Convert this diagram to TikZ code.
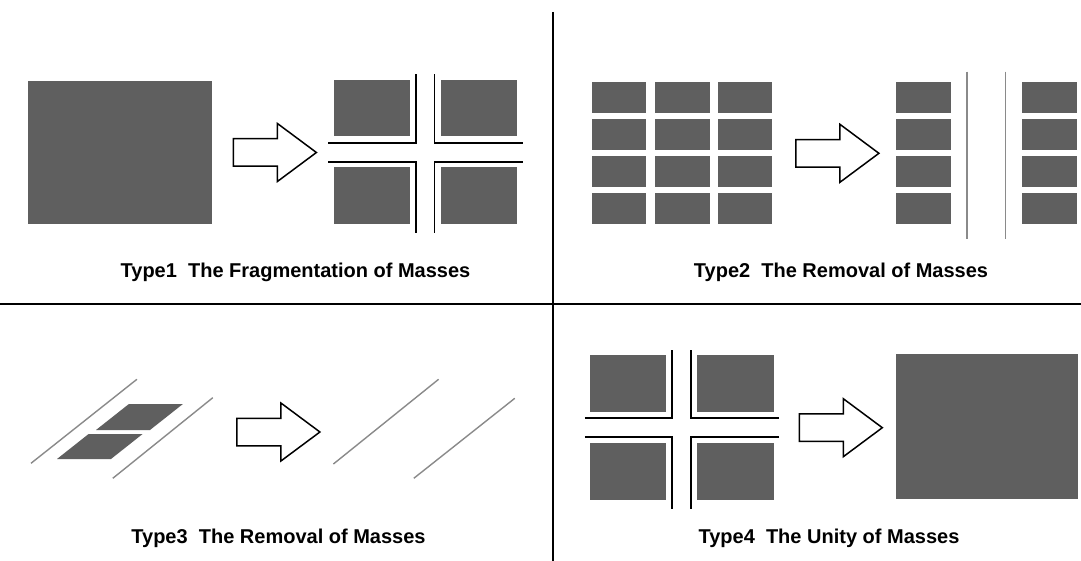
\documentclass[tikz,border=0pt]{standalone}
\usepackage{fontspec}
\newfontfamily\labelfont{Liberation Sans}
\definecolor{masscol}{HTML}{5F5F5F}
\definecolor{guidecol}{HTML}{8A8A8A}

\begin{document}
\begin{tikzpicture}[x=1pt,y=-1pt,
  mass/.style={fill=masscol},
  crossline/.style={draw=black,line width=1.8pt,line join=miter},
  guideline/.style={draw=guidecol,line width=1.4pt},
  divider/.style={draw=black,line width=2.4pt},
  shiftarrow/.style={draw=black,line width=1.5pt,fill=white,line join=miter},
  caption/.style={font=\labelfont\bfseries\fontsize{20}{23}\selectfont,inner sep=0pt,anchor=base},
  blockarrow/.pic={
    \path[shiftarrow] (0,-13.75) -- (44,-13.75) -- (44,-29) -- (83,0)
      -- (44,29) -- (44,13.75) -- (0,13.75) -- cycle;
  },
  crossmass/.pic={
    \fill[mass] (-91,-72.5) rectangle (-15,-16);
    \fill[mass] (16,-72.5) rectangle (92.3,-16);
    \fill[mass] (-91,15) rectangle (-15,71.7);
    \fill[mass] (16,15) rectangle (92.3,71.7);
    \draw[crossline] (-96.6,-9.5) -- (-9.4,-9.5) -- (-9.4,-78.3);
    \draw[crossline] (97.7,-9.5) -- (9.4,-9.5) -- (9.4,-78.3);
    \draw[crossline] (-96.6,9.5) -- (-9.4,9.5) -- (-9.4,81.2);
    \draw[crossline] (97.7,9.5) -- (9.4,9.5) -- (9.4,81.2);
  }
]
\useasboundingbox[fill=white] (0,0) rectangle (1081,561);

% quadrant dividers
\draw[divider] (553,12) -- (553,561);
\draw[divider] (0,304) -- (1081,304);

% Type 1: one mass split into four
\fill[mass] (27.6,80.7) rectangle (212,224.3);
\pic at (233.4,152.5) {blockarrow};
\pic at (425,152.2) {crossmass};
\node[caption] (cap1) at (295.5,278) {Type1\ \ The Fragmentation of Masses};

% Type 2: a column of the grid removed
\foreach \xa/\xb in {591.7/646.2,654.8/709.7,717.9/772.4,896.2/951,1022/1077}
  \foreach \ya/\yb in {82.3/113.3,118.7/150,156/187.3,193.3/224.3}
    \fill[mass] (\xa,\ya) rectangle (\xb,\yb);
\pic at (795.9,153.3) {blockarrow};
\draw[guideline] (966.9,71.7) -- (966.9,239);
\draw[guideline] (1005.5,71.7) -- (1005.5,239);
\node[caption] (cap2) at (841,278) {Type2\ \ The Removal of Masses};

% Type 3: slanted masses removed between the guides
\draw[guideline] (31,463.3) -- (136.9,379.3);
\draw[guideline] (112.8,478.3) -- (212.8,397.7);
\fill[mass] (96,430) -- (128.9,404) -- (182.9,404) -- (150,430) -- cycle;
\fill[mass] (57,459) -- (88.6,434) -- (142.6,434) -- (111,459) -- cycle;
\pic at (236.9,432) {blockarrow};
\draw[guideline] (333.4,464) -- (438.6,379.3);
\draw[guideline] (413.8,478.3) -- (514.8,398.3);
\node[caption] (cap3) at (278.5,543) {Type3\ \ The Removal of Masses};

% Type 4: four masses joined into one
\pic at (681.35,427.8) {crossmass};
\pic at (799.3,427.7) {blockarrow};
\fill[mass] (895.9,354.3) rectangle (1077.7,499);
\node[caption] (cap4) at (829,543) {Type4\ \ The Unity of Masses};
\end{tikzpicture}
\end{document}
